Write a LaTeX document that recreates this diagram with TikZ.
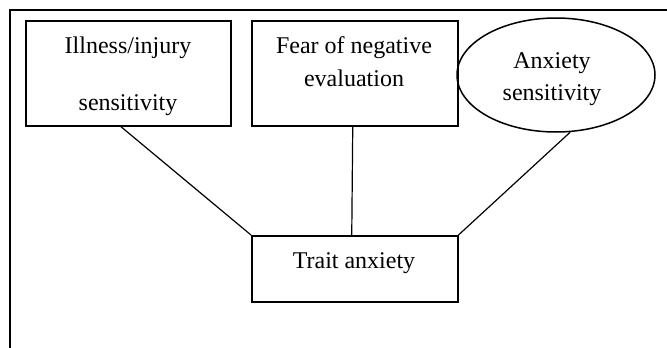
\documentclass[tikz,border=0pt]{standalone}
\usepackage{fontspec}
\setmainfont{Liberation Serif}
\usetikzlibrary{shapes.geometric}
\begin{document}
\begin{tikzpicture}[x=1pt,y=-1pt,line width=1.5pt,
  box/.style={draw,rectangle,inner sep=0pt,anchor=north west},
  oval/.style={draw,ellipse,inner sep=0pt},
  lbl/.style={anchor=base,inner sep=0pt,font=\fontsize{24}{28}\selectfont},
  link/.style={line width=1.2pt}]
\useasboundingbox (0,0) rectangle (667,348);
\draw (10,348) -- (10,10) -- (667,10);
\node[box,minimum width=205pt,minimum height=105pt] (ill) at (25,20) {};
\node[box,minimum width=206pt,minimum height=105pt] (fear) at (251,20) {};
\node[oval,minimum width=198pt,minimum height=114pt] (anx) at (556,75) {};
\node[box,minimum width=206pt,minimum height=66pt] (trait) at (251,235) {};
\node[lbl] (t1) at (128,53) {Illness/injury};
\node[lbl] (t2) at (128,110) {sensitivity};
\node[lbl] (t3) at (354,53) {Fear of negative};
\node[lbl] (t4) at (354,86) {evaluation};
\node[lbl] (t5) at (552,68) {Anxiety};
\node[lbl] (t6) at (552,100) {sensitivity};
\node[lbl] (t7) at (354,268) {Trait anxiety};
\draw[link] ([xshift=-7.5pt]ill.south) -- (trait.north west);
\draw[link] ([xshift=-2pt]fear.south) -- ([xshift=-3pt]trait.north);
\draw[link] (anx.-76) -- (trait.north east);
\end{tikzpicture}
\end{document}
